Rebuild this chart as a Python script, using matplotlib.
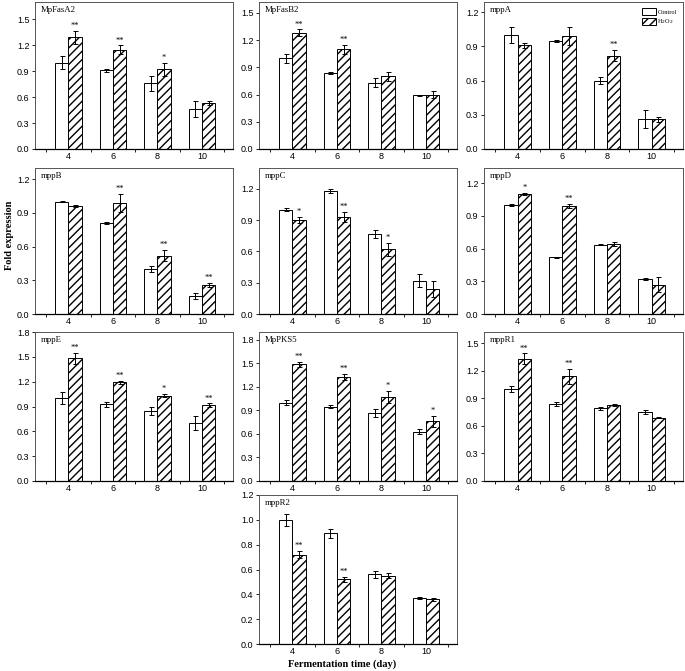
import numpy as np
import matplotlib
matplotlib.use("Agg")
import matplotlib.pyplot as plt

days = [4, 6, 8, 10]

genes = ["MpFasA2", "MpFasB2", "mppA", "mppB", "mppC", "mppD",
         "mppE", "MpPKS5", "mppR1", "mppR2"]

ctrl = {
    "MpFasA2": [1.00, 0.91, 0.76, 0.46],
    "MpFasB2": [1.00, 0.84, 0.73, 0.59],
    "mppA":    [1.00, 0.95, 0.60, 0.26],
    "mppB":    [1.00, 0.81, 0.40, 0.16],
    "mppC":    [1.00, 1.18, 0.77, 0.32],
    "mppD":    [1.00, 0.52, 0.635, 0.32],
    "mppE":    [1.00, 0.93, 0.85, 0.70],
    "MpPKS5":  [1.00, 0.95, 0.87, 0.63],
    "mppR1":   [1.00, 0.84, 0.79, 0.75],
    "mppR2":   [1.00, 0.89, 0.56, 0.37],
}
ctrl_err = {
    "MpFasA2": [0.07, 0.02, 0.09, 0.09],
    "MpFasB2": [0.05, 0.01, 0.05, 0.005],
    "mppA":    [0.07, 0.01, 0.03, 0.08],
    "mppB":    [0.005, 0.01, 0.03, 0.03],
    "mppC":    [0.015, 0.015, 0.04, 0.06],
    "mppD":    [0.01, 0.005, 0.003, 0.01],
    "mppE":    [0.07, 0.03, 0.05, 0.08],
    "MpPKS5":  [0.03, 0.02, 0.05, 0.03],
    "mppR1":   [0.03, 0.02, 0.02, 0.02],
    "mppR2":   [0.05, 0.04, 0.03, 0.01],
}
h2o2 = {
    "MpFasA2": [1.29, 1.15, 0.92, 0.53],
    "MpFasB2": [1.28, 1.10, 0.80, 0.60],
    "mppA":    [0.91, 0.99, 0.82, 0.26],
    "mppB":    [0.96, 0.99, 0.52, 0.26],
    "mppC":    [0.90, 0.93, 0.62, 0.24],
    "mppD":    [1.10, 0.99, 0.64, 0.27],
    "mppE":    [1.48, 1.19, 1.03, 0.92],
    "MpPKS5":  [1.49, 1.33, 1.07, 0.76],
    "mppR1":   [1.33, 1.14, 0.83, 0.69],
    "mppR2":   [0.72, 0.52, 0.55, 0.36],
}
h2o2_err = {
    "MpFasA2": [0.08, 0.05, 0.08, 0.02],
    "MpFasB2": [0.04, 0.05, 0.05, 0.04],
    "mppA":    [0.02, 0.08, 0.05, 0.02],
    "mppB":    [0.01, 0.08, 0.05, 0.02],
    "mppC":    [0.03, 0.05, 0.06, 0.08],
    "mppD":    [0.01, 0.02, 0.02, 0.07],
    "mppE":    [0.07, 0.02, 0.02, 0.02],
    "MpPKS5":  [0.03, 0.04, 0.08, 0.07],
    "mppR1":   [0.06, 0.08, 0.01, 0.01],
    "mppR2":   [0.03, 0.02, 0.02, 0.01],
}
stars = {
    "MpFasA2": ["**", "**", "*", ""],
    "MpFasB2": ["**", "**", "", ""],
    "mppA":    ["", "", "**", ""],
    "mppB":    ["", "**", "**", "**"],
    "mppC":    ["*", "**", "*", ""],
    "mppD":    ["*", "**", "", ""],
    "mppE":    ["**", "**", "*", "**"],
    "MpPKS5":  ["**", "**", "*", "*"],
    "mppR1":   ["**", "**", "", ""],
    "mppR2":   ["**", "**", "", ""],
}
ytop = {"MpFasA2": 1.70, "MpFasB2": 1.62, "mppA": 1.29, "mppB": 1.30,
        "mppC": 1.40, "mppD": 1.34, "mppE": 1.80, "MpPKS5": 1.90,
        "mppR1": 1.62, "mppR2": 1.20}
ystep = {"MpFasA2": 0.3, "MpFasB2": 0.3, "mppA": 0.3, "mppB": 0.3,
         "mppC": 0.3, "mppD": 0.3, "mppE": 0.3, "MpPKS5": 0.3,
         "mppR1": 0.3, "mppR2": 0.2}

W, H = 685, 671
cols = [(35, 233), (259, 457), (484, 683)]
rows = [(2, 149), (168, 314), (332, 481), (495, 644)]
slots = [(0, 0), (0, 1), (0, 2), (1, 0), (1, 1), (1, 2),
         (2, 0), (2, 1), (2, 2), (3, 1)]

fig = plt.figure(figsize=(W / 100, H / 100), dpi=100)
serif = "Liberation Serif"
sans = "Liberation Sans"
bw = 0.6

for g, (r, c) in zip(genes, slots):
    x0, x1 = cols[c]
    t0, b0 = rows[r]
    ax = fig.add_axes([x0 / W, 1 - b0 / H, (x1 - x0) / W, (b0 - t0) / H])
    x = np.array(days, dtype=float)
    ax.bar(x - bw / 2, ctrl[g], bw, color="white", edgecolor="black", lw=0.7,
           yerr=ctrl_err[g], error_kw=dict(lw=0.7, capsize=1.8, capthick=0.7),
           label="Control")
    ax.bar(x + bw / 2, h2o2[g], bw, color="white", edgecolor="black", lw=0.7,
           hatch="////", yerr=h2o2_err[g],
           error_kw=dict(lw=0.7, capsize=1.8, capthick=0.7), label="H$_2$O$_2$")
    for xi, v, e, s in zip(x, h2o2[g], h2o2_err[g], stars[g]):
        if s:
            ax.text(xi + bw / 2, v + e + 0.005 * ytop[g], s, ha="center",
                    va="bottom", fontsize=6, family=serif)
    ax.set_xlim(2.5, 11.4)
    ax.set_ylim(0, ytop[g])
    yt = np.arange(0, ytop[g] + 1e-6, ystep[g])
    ax.set_yticks(yt)
    ax.set_yticklabels(["%.1f" % v for v in yt])
    ax.set_xticks(days)
    ax.set_xticks([3, 5, 7, 9, 11], minor=True)
    ax.tick_params(axis="x", which="major", length=0, pad=2)
    ax.tick_params(axis="x", which="minor", length=2, width=0.6)
    ax.tick_params(axis="y", length=2, width=0.6, pad=2)
    for lab in ax.get_xticklabels() + ax.get_yticklabels():
        lab.set_fontsize(6.5)
        lab.set_family(sans)
    for sp in ax.spines.values():
        sp.set_linewidth(0.7)
        sp.set_color("#555555")
    ax.spines["bottom"].set_color("black")
    ax.spines["bottom"].set_linewidth(0.9)
    ax.text(0.03, 0.97, g, transform=ax.transAxes, ha="left", va="top",
            fontsize=6.3, family=serif)
    if g == "mppA":
        ax.legend(loc="upper right", frameon=False,
                  prop={"family": serif, "size": 4.5}, handlelength=2.2,
                  handleheight=1.4, borderaxespad=0.6, labelspacing=0.3,
                  handletextpad=0.3)

fig.text(10 / W, 1 - 235 / H, "Fold expression", rotation=90, ha="center",
         va="center", fontsize=7.5, fontweight="bold", family=serif)
fig.text(342 / W, 1 - 664 / H, "Fermentation time (day)", ha="center",
         va="center", fontsize=7.5, fontweight="bold", family=serif)

fig.savefig("out.png", dpi=100)
